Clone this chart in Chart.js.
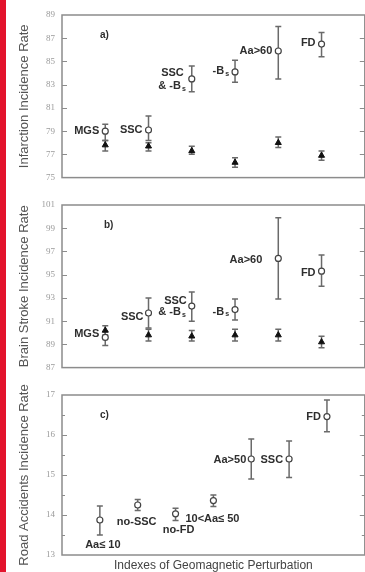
<!DOCTYPE html>
<html>
<head>
<meta charset="utf-8">
<script src="https://cdn.jsdelivr.net/npm/chart.js@4.4.0/dist/chart.umd.min.js"></script>
<style>
  html, body { margin: 0; padding: 0; background: #fff; }
  body { width: 365px; height: 572px; position: relative; overflow: hidden; }
  .stripe { position: absolute; left: 0; top: 0; width: 6px; height: 572px; background: #e3132c; z-index: 2; }
  canvas { position: absolute; left: 0; }
</style>
</head>
<body>
<div class="stripe"></div>
<canvas id="panel-a" width="370" height="190" style="top:0"></canvas>
<canvas id="panel-b" width="370" height="190" style="top:190px"></canvas>
<canvas id="panel-c" width="370" height="192" style="top:380px"></canvas>
<script>
// a) infarction incidence, disturbed days (open) vs quiet days (filled)
const infPos = [1, 2, 3, 4, 5, 6];
const infDisturbed = [79.0, 79.1, 83.5, 84.1, 85.9, 86.5];
const infDisturbedLo = [78.2, 78.2, 82.4, 83.2, 83.5, 85.4];
const infDisturbedHi = [79.6, 80.3, 84.6, 85.1, 88.0, 87.5];
const infQuiet = [77.8, 77.7, 77.3, 76.3, 78.0, 76.9];
const infQuietLo = [77.3, 77.3, 77.0, 75.9, 77.6, 76.5];
const infQuietHi = [78.2, 78.0, 77.7, 76.7, 78.5, 77.3];
const infTicks = [75, 89, 2];

// b) brain stroke incidence
const strokePos = [1, 2, 3, 4, 5, 6];
const strokeDisturbed = [89.6, 91.7, 92.3, 92.0, 96.4, 95.3];
const strokeDisturbedLo = [88.9, 90.4, 91.0, 91.1, 92.9, 94.0];
const strokeDisturbedHi = [90.1, 93.0, 93.5, 92.9, 99.9, 96.7];
const strokeQuiet = [90.2, 89.8, 89.7, 89.8, 89.8, 89.2];
const strokeQuietLo = [89.8, 89.3, 89.3, 89.3, 89.3, 88.7];
const strokeQuietHi = [90.6, 90.3, 90.2, 90.3, 90.3, 89.7];
const strokeTicks = [87, 101, 2];

// c) road accidents incidence
const roadPos = [1, 2, 3, 4, 5, 6, 7];
const roadRate = [13.875, 14.25, 14.03, 14.36, 15.4, 15.4, 16.46];
const roadRateLo = [13.5, 14.11, 13.86, 14.21, 14.9, 14.94, 16.08];
const roadRateHi = [14.225, 14.39, 14.17, 14.5, 15.9, 15.85, 16.875];
const roadTicks = [13, 17, 0.5];

const LABEL_FONT = 'bold 11px "Liberation Sans", Arial, sans-serif';
const SUB_FONT = 'bold 7px "Liberation Sans", Arial, sans-serif';
const FRAME_COLOR = '#8c8c8c';
const BAR_COLOR = '#6a6a6a';

// text with an optional "_x" subscript part, e.g. "-B_s"
function drawRich(ctx, text, x, y, align) {
    const parts = text.split('_');
    const main = parts[0];
    const sub = parts[1] || '';
    ctx.font = LABEL_FONT;
    const wMain = ctx.measureText(main).width;
    ctx.font = SUB_FONT;
    const wSub = sub ? ctx.measureText(sub).width + 1 : 0;
    const w = wMain + wSub;
    let x0 = x;
    if (align === 'right') x0 = x - w;
    else if (align === 'center') x0 = x - w / 2;
    ctx.textAlign = 'left';
    ctx.textBaseline = 'middle';
    ctx.fillStyle = '#2e2e2e';
    ctx.font = LABEL_FONT;
    ctx.fillText(main, x0, y);
    if (sub) {
        ctx.font = SUB_FONT;
        ctx.fillText(sub, x0 + wMain + 1, y + 3);
    }
}

function toPoints(xs, ys) {
    return xs.map((x, i) => ({ x: x, y: ys[i] }));
}

function buildPanel(cfg) {
    const isMajor = v => Number.isInteger(Math.round((v - cfg.ticks[0]) * 1000) / 1000 / cfg.majorStep);
    // box, inward ticks on both sides, error bars
    const framePlugin = {
        id: 'frameAndBars',
        beforeDatasetsDraw(chart) {
            const ctx = chart.ctx;
            const area = chart.chartArea;
            const y = chart.scales.y;
            ctx.save();
            ctx.strokeStyle = FRAME_COLOR;
            ctx.lineWidth = 1.5;
            ctx.strokeRect(area.left, area.top, area.right - area.left, area.bottom - area.top);
            ctx.lineWidth = 1;
            y.ticks.forEach(t => {
                if (t.value <= y.min || t.value >= y.max) return;
                const py = Math.round(y.getPixelForValue(t.value)) + 0.5;
                const len = isMajor(t.value) ? 5 : 3;
                ctx.beginPath();
                ctx.moveTo(area.left, py);
                ctx.lineTo(area.left + len, py);
                ctx.moveTo(area.right, py);
                ctx.lineTo(area.right - len, py);
                ctx.stroke();
            });
            ctx.strokeStyle = BAR_COLOR;
            ctx.lineWidth = 1.5;
            chart.data.datasets.forEach((ds, i) => {
                const meta = chart.getDatasetMeta(i);
                meta.data.forEach((pt, j) => {
                    const yLo = y.getPixelForValue(ds.errLo[j]);
                    const yHi = y.getPixelForValue(ds.errHi[j]);
                    ctx.beginPath();
                    ctx.moveTo(pt.x, yLo);
                    ctx.lineTo(pt.x, yHi);
                    ctx.moveTo(pt.x - 3, yLo);
                    ctx.lineTo(pt.x + 3, yLo);
                    ctx.moveTo(pt.x - 3, yHi);
                    ctx.lineTo(pt.x + 3, yHi);
                    ctx.stroke();
                });
            });
            ctx.restore();
        }
    };
    const labelPlugin = {
        id: 'pointNames',
        afterDatasetsDraw(chart) {
            const ctx = chart.ctx;
            const area = chart.chartArea;
            const meta = chart.getDatasetMeta(0);
            ctx.save();
            cfg.names.forEach(n => {
                const pt = meta.data[n.i];
                drawRich(ctx, n.text, pt.x + n.dx, pt.y + n.dy, n.align || 'right');
            });
            ctx.font = 'bold 10px "Liberation Sans", Arial, sans-serif';
            ctx.fillStyle = '#2e2e2e';
            ctx.textAlign = 'left';
            ctx.textBaseline = 'middle';
            ctx.fillText(cfg.tag, area.left + cfg.tagX, area.top + 20);
            ctx.restore();
        }
    };
    const xAxis = cfg.xTitle ? {
        type: 'linear', min: 0, max: cfg.xMax, display: true,
        grid: { display: false, drawTicks: false },
        border: { display: false },
        ticks: { display: false },
        title: {
            display: true, text: cfg.xTitle, color: '#444',
            font: { family: '"Liberation Sans", Arial, sans-serif', size: 12, lineHeight: 1 },
            padding: { top: 5, bottom: 0 }
        }
    } : { type: 'linear', min: 0, max: cfg.xMax, display: false };

    new Chart(document.getElementById(cfg.canvas).getContext('2d'), {
        type: 'scatter',
        data: { datasets: cfg.datasets },
        options: {
            responsive: false,
            animation: false,
            events: [],
            layout: { padding: { top: 15, bottom: cfg.padBottom, left: 17, right: 0 } },
            plugins: { legend: { display: false }, tooltip: { enabled: false } },
            scales: {
                x: xAxis,
                y: {
                    min: cfg.ticks[0], max: cfg.ticks[1],
                    grid: { display: false, drawTicks: false },
                    border: { display: false },
                    ticks: {
                        stepSize: cfg.ticks[2],
                        padding: 7,
                        color: '#9a9a9a',
                        font: { family: '"Liberation Serif", serif', size: 9 },
                        callback: v => (isMajor(v) ? v : '')
                    },
                    title: {
                        display: true, text: cfg.yTitle, color: '#555',
                        font: { family: '"Liberation Sans", Arial, sans-serif', size: 13 },
                        padding: { top: 0, bottom: 0 }
                    },
                    afterFit: scale => { scale.width = 45; }
                }
            }
        },
        plugins: [framePlugin, labelPlugin]
    });
}

function disturbedSet(xs, ys, lo, hi) {
    return {
        data: toPoints(xs, ys), errLo: lo, errHi: hi,
        pointStyle: 'circle', pointRadius: 3,
        backgroundColor: '#fff', borderColor: '#444', borderWidth: 1.2
    };
}
function quietSet(xs, ys, lo, hi) {
    return {
        data: toPoints(xs, ys), errLo: lo, errHi: hi,
        pointStyle: 'triangle', pointRadius: 3.5,
        backgroundColor: '#111', borderColor: '#111', borderWidth: 1
    };
}

buildPanel({
    canvas: 'panel-a', xMax: 7, padBottom: 10, ticks: infTicks, majorStep: 2,
    yTitle: 'Infarction Incidence Rate', tag: 'a)', tagX: 38,
    datasets: [
        disturbedSet(infPos, infDisturbed, infDisturbedLo, infDisturbedHi),
        quietSet(infPos, infQuiet, infQuietLo, infQuietHi)
    ],
    names: [
        { i: 0, text: 'MGS', dx: -6, dy: 0 },
        { i: 1, text: 'SSC', dx: -6, dy: 0 },
        { i: 2, text: 'SSC', dx: -8, dy: -6 },
        { i: 2, text: '& -B_s', dx: -6, dy: 7 },
        { i: 3, text: '-B_s', dx: -6, dy: -1 },
        { i: 4, text: 'Aa>60', dx: -6, dy: 0 },
        { i: 5, text: 'FD', dx: -6, dy: -1 }
    ]
});

buildPanel({
    canvas: 'panel-b', xMax: 7, padBottom: 10, ticks: strokeTicks, majorStep: 2,
    yTitle: 'Brain Stroke Incidence Rate', tag: 'b)', tagX: 42,
    datasets: [
        disturbedSet(strokePos, strokeDisturbed, strokeDisturbedLo, strokeDisturbedHi),
        quietSet(strokePos, strokeQuiet, strokeQuietLo, strokeQuietHi)
    ],
    names: [
        { i: 0, text: 'MGS', dx: -6, dy: -3 },
        { i: 1, text: 'SSC', dx: -5, dy: 4 },
        { i: 2, text: 'SSC', dx: -5, dy: -5 },
        { i: 2, text: '& -B_s', dx: -6, dy: 6 },
        { i: 3, text: '-B_s', dx: -6, dy: 2 },
        { i: 4, text: 'Aa>60', dx: -16, dy: 2 },
        { i: 5, text: 'FD', dx: -6, dy: 2 }
    ]
});

buildPanel({
    canvas: 'panel-c', xMax: 8, padBottom: 0, ticks: roadTicks, majorStep: 1,
    yTitle: 'Road Accidents Incidence Rate', tag: 'c)', tagX: 38,
    xTitle: 'Indexes of Geomagnetic Perturbation',
    datasets: [
        disturbedSet(roadPos, roadRate, roadRateLo, roadRateHi)
    ],
    names: [
        { i: 0, text: 'Aa\u2264 10', dx: 3, dy: 25, align: 'center' },
        { i: 1, text: 'no-SSC', dx: -1, dy: 17, align: 'center' },
        { i: 2, text: 'no-FD', dx: 3, dy: 16, align: 'center' },
        { i: 3, text: '10<Aa\u2264 50', dx: -28, dy: 18, align: 'left' },
        { i: 4, text: 'Aa>50', dx: -5, dy: 1 },
        { i: 5, text: 'SSC', dx: -6, dy: 1 },
        { i: 6, text: 'FD', dx: -6, dy: 0 }
    ]
});
</script>
</body>
</html>
